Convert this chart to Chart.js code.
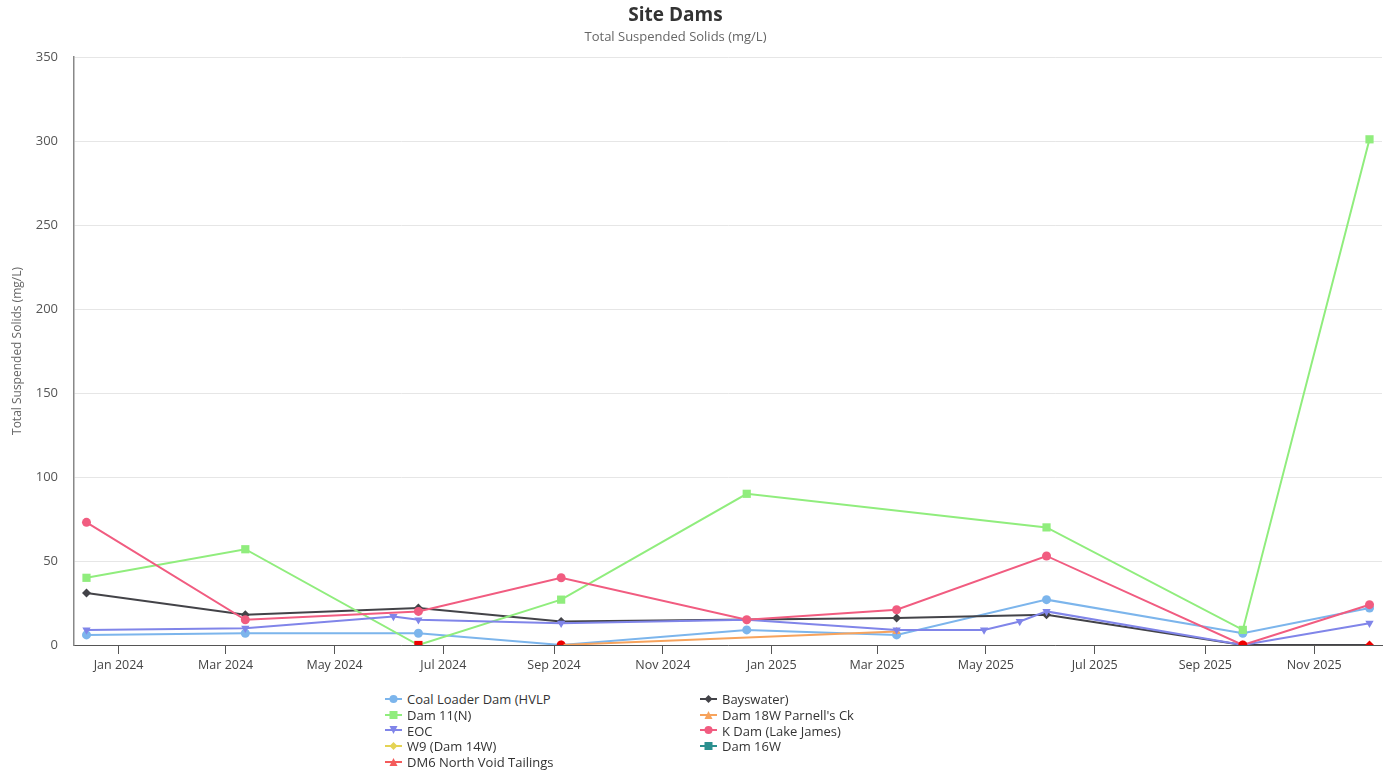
<!DOCTYPE html>
<html>
<head>
<meta charset="utf-8">
<title>Site Dams</title>
<script src="https://cdn.jsdelivr.net/npm/chart.js@4/dist/chart.umd.min.js"></script>
<style>
  body { margin: 0; background: #fff; font-family: "Open Sans", sans-serif; }
  #wrap { position: relative; width: 1391px; height: 690px; }
  #legend {
    position: absolute; left: 385px; top: 691px;
    display: grid; grid-template-columns: 315px 315px;
    font-size: 13px; color: #333;
  }
  .item { display: flex; align-items: center; height: 15.8px; white-space: nowrap; }
  .item canvas { margin-right: 5px; }
</style>
</head>
<body>
<div id="wrap"><canvas id="myChart"></canvas></div>
<div id="legend"></div>
<script>
// sample dates (one column per sampling run)
const sampleDates = ["2023-12-14", "2024-03-12", "2024-06-03", "2024-06-17", "2024-09-05", "2024-12-18",
                     "2025-03-12", "2025-04-30", "2025-05-20", "2025-06-04", "2025-09-22", "2025-12-02"];

// TSS values (mg/L), null = no sample
const coalLoader = [6, 7, null, 7, 0, 9, 6, null, null, 27, 7, 22];
const bayswater  = [31, 18, null, 22, 14, null, 16, null, null, 18, 0, 0];
const dam11      = [40, 57, null, 0, 27, 90, null, null, null, 70, 9, 301];
const dam18w     = [null, null, null, null, 0, null, 8, null, null, null, null, null];
const eoc        = [9, 10, 17, 15, 13, 15, 9, 9, 14, 20, 0, 13];
const kDam       = [73, 15, null, 20, 40, 15, 21, null, null, 53, 0, 24];
const w9         = [null, null, null, null, null, null, null, null, null, null, null, null];
const dam16w     = [null, null, null, null, null, null, null, null, null, null, null, null];
const dm6        = [null, null, null, null, null, null, null, null, null, null, null, null];

const seriesNames = ["Coal Loader Dam (HVLP", "Bayswater)", "Dam 11(N)", "Dam 18W Parnell's Ck", "EOC",
                     "K Dam (Lake James)", "W9 (Dam 14W)", "Dam 16W", "DM6 North Void Tailings"];
const seriesValues = [coalLoader, bayswater, dam11, dam18w, eoc, kDam, w9, dam16w, dm6];
const seriesColors = ["#7cb5ec", "#434348", "#90ed7d", "#f7a35c", "#8085e9", "#f15c80", "#e4d354", "#2b908f", "#f45b5b"];
const seriesMarkers = ["circle", "diamond", "square", "triangle", "triangle-down", "circle", "diamond", "square", "triangle"];

// x axis ticks
const tickDates = ["2024-01-01", "2024-03-01", "2024-05-01", "2024-07-01", "2024-09-01", "2024-11-01",
                   "2025-01-01", "2025-03-01", "2025-05-01", "2025-07-01", "2025-09-01", "2025-11-01"];
const tickLabels = ["Jan 2024", "Mar 2024", "May 2024", "Jul 2024", "Sep 2024", "Nov 2024",
                    "Jan 2025", "Mar 2025", "May 2025", "Jul 2025", "Sep 2025", "Nov 2025"];
const xMin = "2023-12-07";
const xMax = "2025-12-09";
const yTicks = [0, 50, 100, 150, 200, 250, 300, 350];

const ZERO_COLOR = "#ee0000";
const t = s => Date.parse(s + "T00:00:00Z");

function chartStyle(marker) {
    if (marker === "circle") return { pointStyle: "circle", radius: 4.5, rotation: 0 };
    if (marker === "diamond") return { pointStyle: "rectRot", radius: 4.5, rotation: 0 };
    if (marker === "square") return { pointStyle: "rect", radius: 5.8, rotation: 0 };
    if (marker === "triangle") return { pointStyle: "triangle", radius: 4.8, rotation: 0 };
    return { pointStyle: "triangle", radius: 4.8, rotation: 180 };
}

const datasets = seriesNames.map((name, i) => {
    const st = chartStyle(seriesMarkers[i]);
    const pts = [];
    sampleDates.forEach((d, k) => {
        if (seriesValues[i][k] !== null) pts.push({ x: t(d), y: seriesValues[i][k] });
    });
    const col = seriesColors[i];
    const pick = ctx => (ctx.raw && ctx.raw.y === 0 ? ZERO_COLOR : col);
    return {
        label: name,
        data: pts,
        borderColor: col,
        backgroundColor: col,
        borderWidth: 2,
        tension: 0,
        pointStyle: st.pointStyle,
        pointRadius: st.radius,
        pointRotation: st.rotation,
        pointBackgroundColor: pick,
        pointBorderColor: pick,
        pointBorderWidth: 0,
        order: seriesNames.length - i
    };
});

// titles are centred on a 1351px wide block like the original
const titleShift = {
    id: "titleShift",
    afterLayout(chart) {
        chart.boxes.forEach(b => {
            if (b.position === "top" && b.options && b.options.text !== undefined) {
                b.right = chart.width - 40;
            }
        });
    }
};

Chart.defaults.font.family = "'Open Sans', sans-serif";
Chart.defaults.color = "#666";

new Chart("myChart", {
    type: "line",
    data: { datasets: datasets },
    plugins: [titleShift],
    options: {
        responsive: true,
        maintainAspectRatio: false,
        animation: false,
        events: [],
        layout: { padding: { left: 0, right: 9, top: 0, bottom: 0 } },
        plugins: {
            legend: { display: false },
            tooltip: { enabled: false },
            title: {
                display: true,
                text: "Site Dams",
                color: "#333",
                font: { size: 19, weight: "bold" },
                padding: { top: 4.6, bottom: 0 }
            },
            subtitle: {
                display: true,
                text: "Total Suspended Solids (mg/L)",
                color: "#666",
                font: { size: 13 },
                padding: { top: 1.8, bottom: 12.2 }
            }
        },
        scales: {
            x: {
                type: "linear",
                min: t(xMin),
                max: t(xMax),
                afterBuildTicks: scale => {
                    scale.ticks = tickDates.map(d => ({ value: t(d) }));
                },
                afterFit: scale => { scale.height = 45; },
                grid: { drawOnChartArea: false, drawTicks: true, tickLength: 9, color: "#555" },
                border: { color: "#555", width: 1 },
                ticks: {
                    autoSkip: false,
                    maxRotation: 0,
                    padding: 4,
                    color: "#444",
                    font: { size: 12.5 },
                    callback: (v, i) => tickLabels[i]
                }
            },
            y: {
                min: 0,
                max: 350,
                afterBuildTicks: scale => {
                    scale.ticks = yTicks.map(v => ({ value: v }));
                },
                afterFit: scale => { scale.width = 74; },
                grid: { color: "#e6e6e6", drawTicks: false },
                border: { color: "#888", width: 1.5 },
                ticks: { padding: 16, color: "#555", font: { size: 13 } },
                title: {
                    display: true,
                    text: "Total Suspended Solids (mg/L)",
                    color: "#666",
                    font: { size: 12 },
                    padding: { top: 10, bottom: 0 }
                }
            }
        }
    }
});

// legend: line + marker symbol, two columns
function drawMarker(ctx, marker, x, y, r, color) {
    ctx.fillStyle = color;
    ctx.beginPath();
    if (marker === "circle") {
        ctx.arc(x, y, r, 0, Math.PI * 2);
    } else if (marker === "square") {
        ctx.rect(x - r, y - r, r * 2, r * 2);
    } else if (marker === "diamond") {
        ctx.moveTo(x, y - r); ctx.lineTo(x + r, y); ctx.lineTo(x, y + r); ctx.lineTo(x - r, y);
    } else if (marker === "triangle") {
        ctx.moveTo(x, y - r); ctx.lineTo(x + r, y + r); ctx.lineTo(x - r, y + r);
    } else {
        ctx.moveTo(x - r, y - r); ctx.lineTo(x + r, y - r); ctx.lineTo(x, y + r);
    }
    ctx.closePath();
    ctx.fill();
}

const legend = document.getElementById("legend");
seriesNames.forEach((name, i) => {
    const item = document.createElement("div");
    item.className = "item";
    const c = document.createElement("canvas");
    c.width = 17; c.height = 12;
    const g = c.getContext("2d");
    g.strokeStyle = seriesColors[i];
    g.lineWidth = 2;
    g.beginPath(); g.moveTo(0, 6); g.lineTo(17, 6); g.stroke();
    drawMarker(g, seriesMarkers[i], 8.5, 6, 4, seriesColors[i]);
    const span = document.createElement("span");
    span.textContent = name;
    item.appendChild(c);
    item.appendChild(span);
    legend.appendChild(item);
});
</script>
</body>
</html>
